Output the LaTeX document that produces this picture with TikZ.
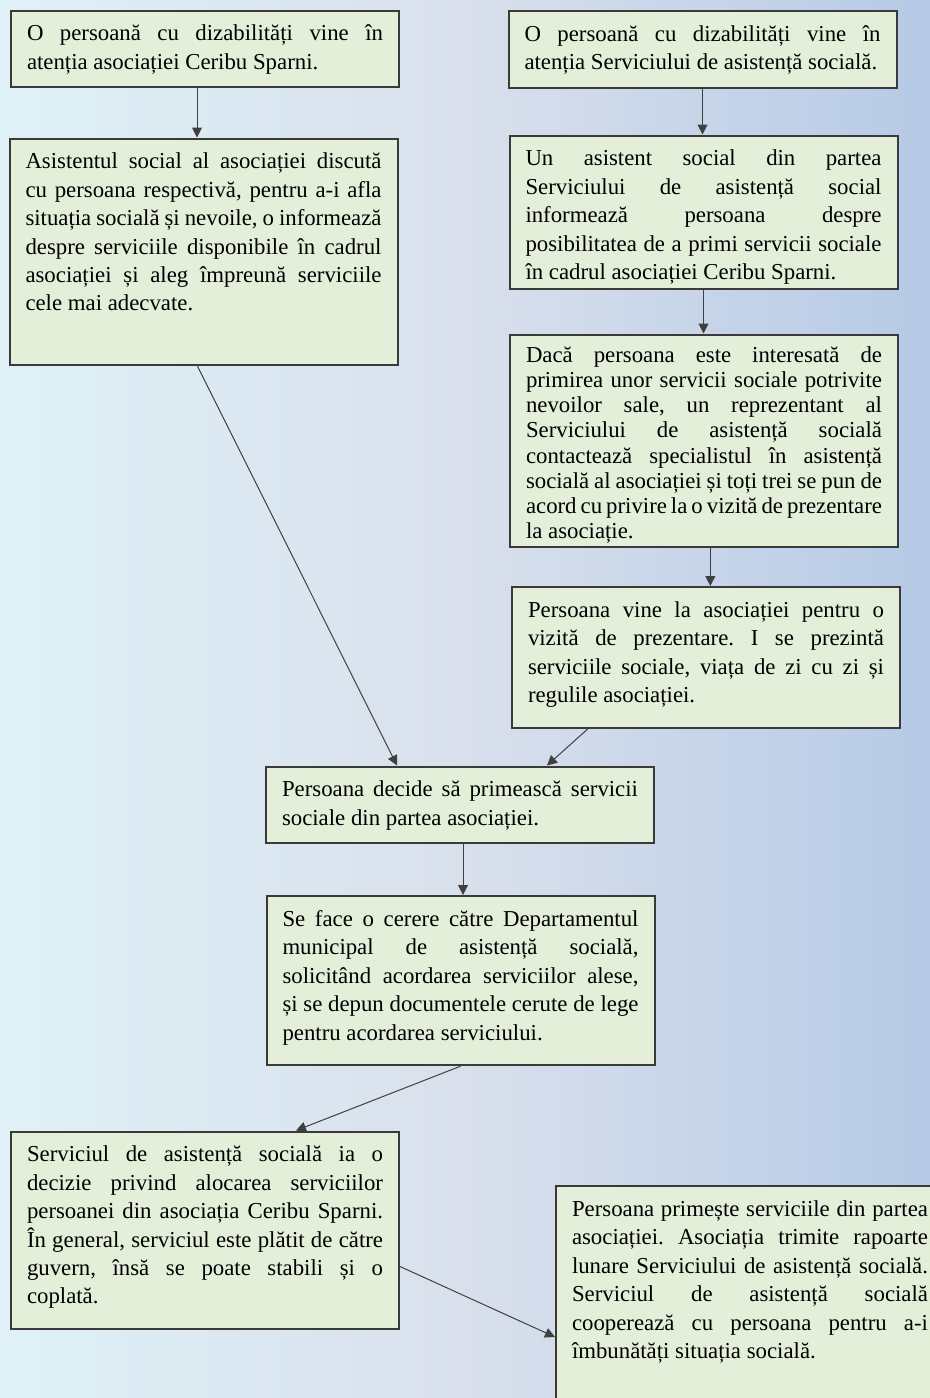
\documentclass[tikz,border=0pt]{standalone}
\usepackage{fontspec}
\setmainfont{Liberation Serif}
\usetikzlibrary{arrows.meta}
\definecolor{boxfill}{HTML}{E3EFD9}
\definecolor{boxline}{HTML}{3A3A3A}
\definecolor{bgleft}{HTML}{DFF1F7}
\definecolor{bgmid}{HTML}{D9E0EC}
\definecolor{bgright}{HTML}{B6CAE6}
\newdimen\pxu \pxu=0.5pt
\newcommand{\boxtxt}[2]{\parbox[t][#1\pxu][t]{178pt}{\frenchspacing\tolerance=10000\hyphenpenalty=10000\strut #2}}
\begin{document}
\begin{tikzpicture}[x=0.5pt,y=-0.5pt,
    box/.style={draw=boxline,fill=boxfill,line width=1pt,anchor=north west,inner xsep=8pt,inner ysep=5.3pt,font=\fontsize{11.4}{14.2}\selectfont},
    arr/.style={draw=black!75,line width=0.5pt,-{Triangle[width=5pt,length=5pt]}}]
    \path[use as bounding box,clip] (0,0) rectangle (930,1398);
    \shade[left color=bgleft,right color=bgright,middle color=bgmid] (0,0) rectangle (930,1398);

    \node[box] (a1) at (10,9.5) {\boxtxt{55.5}{O persoană cu dizabilități vine în\linebreak
        atenția asociației Ceribu Sparni.}};
    \node[box] (b1) at (507.5,10) {\boxtxt{56}{O persoană cu dizabilități vine în\linebreak
        atenția Serviciului de asistență socială.}};
    \node[box] (a2) at (8.5,137.5) {\boxtxt{205.5}{Asistentul social al asociației discută\linebreak
        cu persoana respectivă, pentru a-i afla\linebreak
        situația socială și nevoile, o informează\linebreak
        despre serviciile disponibile în cadrul\linebreak
        asociației și aleg împreună serviciile\linebreak
        cele mai adecvate.}};
    \node[box] (b2) at (508.5,134.5) {\boxtxt{131.8}{Un asistent social din partea\linebreak
        Serviciului de asistență social\linebreak
        informează persoana despre\linebreak
        posibilitatea de a primi servicii sociale\linebreak
        în cadrul asociației Ceribu Sparni.}};
    \node[box,font=\fontsize{11.4}{12.55}\selectfont] (b3) at (509,333.5) {\boxtxt{191.2}{Dacă persoana este interesată de\linebreak
        primirea unor servicii sociale potrivite\linebreak
        nevoilor sale, un reprezentant al\linebreak
        Serviciului de asistență socială\linebreak
        contactează specialistul în asistență\linebreak
        socială al asociației și toți trei se pun de\linebreak
        acord cu privire la o vizită de prezentare\linebreak
        la asociație.}};
    \node[box] (b4) at (511,586) {\boxtxt{119.5}{Persoana vine la asociației pentru o\linebreak
        vizită de prezentare. I se prezintă\linebreak
        serviciile sociale, viața de zi cu zi și\linebreak
        regulile asociației.}};
    \node[box] (c1) at (265,765.5) {\boxtxt{54.8}{Persoana decide să primească servicii\linebreak
        sociale din partea asociației.}};
    \node[box] (c2) at (265.5,895) {\boxtxt{148}{Se face o cerere către Departamentul\linebreak
        municipal de asistență socială,\linebreak
        solicitând acordarea serviciilor alese,\linebreak
        și se depun documentele cerute de lege\linebreak
        pentru acordarea serviciului.}};
    \node[box] (d1) at (10,1130.5) {\boxtxt{176.4}{Serviciul de asistență socială ia o\linebreak
        decizie privind alocarea serviciilor\linebreak
        persoanei din asociația Ceribu Sparni.\linebreak
        În general, serviciul este plătit de către\linebreak
        guvern, însă se poate stabili și o\linebreak
        coplată.}};
    \node[box] (d2) at (555,1185) {\boxtxt{219}{Persoana primește serviciile din partea\linebreak
        asociației. Asociația trimite rapoarte\linebreak
        lunare Serviciului de asistență socială.\linebreak
        Serviciul de asistență socială\linebreak
        cooperează cu persoana pentru a-i\linebreak
        îmbunătăți situația socială.}};

    \draw[arr] ([xshift=-4pt]a1.south) -- ([xshift=-4pt]a1.south |- a2.north);
    \draw[arr] (b1.south) -- (b1.south |- b2.north);
    \draw[arr] (b2.south) -- (b2.south |- b3.north);
    \draw[arr] ([xshift=3.15pt]b3.south) -- ([xshift=3.15pt]b3.south |- b4.north);
    \draw[arr] ([xshift=-3pt]a2.south) -- ([xshift=66pt]c1.north west);
    \draw[arr] ([xshift=38.5pt]b4.south west) -- ([xshift=141pt]c1.north west);
    \draw[arr] ([xshift=1.5pt]c1.south) -- ([xshift=1.5pt]c1.south |- c2.north);
    \draw[arr] (c2.south) -- ([xshift=143pt]d1.north west);
    \draw[arr] ([yshift=-68pt]d1.north east) -- ([yshift=-76pt]d2.north west);
\end{tikzpicture}
\end{document}
